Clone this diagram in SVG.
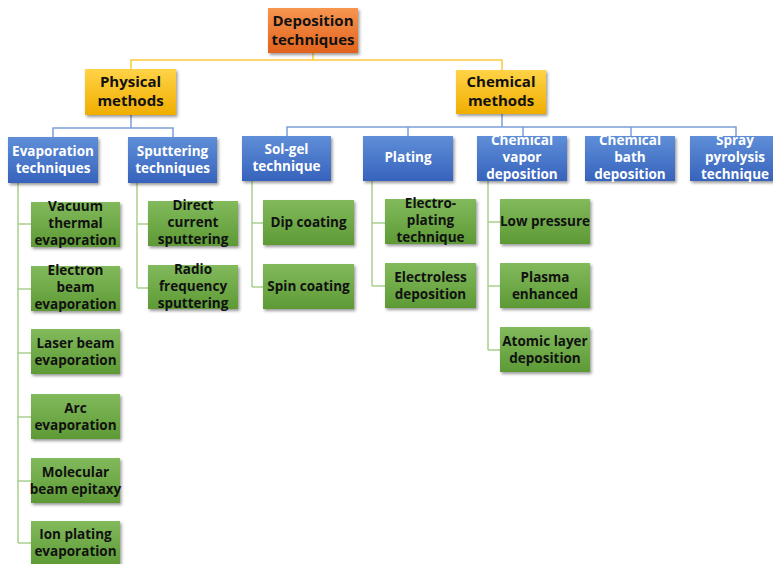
<svg xmlns="http://www.w3.org/2000/svg" width="773" height="564" viewBox="0 0 773 564">
<defs>
<linearGradient id="gO" x1="0" y1="0" x2="0" y2="1"><stop offset="0" stop-color="#F79650"/><stop offset="1" stop-color="#E1621C"/></linearGradient>
<linearGradient id="gY" x1="0" y1="0" x2="0" y2="1"><stop offset="0" stop-color="#FFD347"/><stop offset="1" stop-color="#F0AE00"/></linearGradient>
<linearGradient id="gB" x1="0" y1="0" x2="0" y2="1"><stop offset="0" stop-color="#5F8ED8"/><stop offset="1" stop-color="#3763BC"/></linearGradient>
<linearGradient id="gG" x1="0" y1="0" x2="0" y2="1"><stop offset="0" stop-color="#82BA5C"/><stop offset="1" stop-color="#5D9A35"/></linearGradient>
<filter id="sh" x="-10%" y="-10%" width="130%" height="140%"><feDropShadow dx="1.5" dy="2" stdDeviation="1.5" flood-color="#000" flood-opacity="0.4"/></filter>
</defs>
<style>
text{font-family:"Open Sans","Liberation Sans",sans-serif;font-weight:bold;text-anchor:middle}
.t0{font-size:15px;fill:#111}
.tb{font-size:13.5px;fill:#fff}
.tg{font-size:13.5px;fill:#111}
.bo{fill:url(#gO);filter:url(#sh)}
.by{fill:url(#gY);filter:url(#sh)}
.bb{fill:url(#gB);filter:url(#sh)}
.bg{fill:url(#gG);filter:url(#sh)}
.cy{stroke:#FFC93C;stroke-width:1.5;fill:none}
.cb{stroke:#7E9ED8;stroke-width:1.5;fill:none}
.cg{stroke:#A9D18E;stroke-width:1.5;fill:none}
</style>
<rect width="773" height="564" fill="#fff"/>
<g id="connectors">
<path class="cy" d="M313 53V60M131 69V60H502V70"/>
<path class="cb" d="M131 115V128M53 137V128H173V137"/>
<path class="cb" d="M502 114V127M287 136V127H736V136M408 127V136M523 127V136M631 127V136"/>
<path class="cg" d="M18 183V543M18 224H31M18 289H31M18 353H31M18 417H31M18 481H31M18 543H31"/>
<path class="cg" d="M137 183V288M137 224H148M137 288H148"/>
<path class="cg" d="M252 181V287M252 223H263M252 287H263"/>
<path class="cg" d="M372 181V286M372 223H385M372 286H385"/>
<path class="cg" d="M488 181V350M488 222H500M488 286H500M488 350H500"/>
</g>
<g id="root"><rect class="bo" x="268" y="8" width="90" height="45"/><text class="t0" x="313" y="26">Deposition</text><text class="t0" x="313" y="45">techniques</text></g>
<g id="physical"><rect class="by" x="85" y="69" width="91" height="46"/><text class="t0" x="130.5" y="87">Physical</text><text class="t0" x="130.5" y="106">methods</text></g>
<g id="chemical"><rect class="by" x="456" y="70" width="90" height="44"/><text class="t0" x="501" y="87">Chemical</text><text class="t0" x="501" y="106">methods</text></g>
<g id="evaporation"><rect class="bb" x="8" y="137" width="90" height="46"/><text class="tb" x="53" y="156">Evaporation</text><text class="tb" x="53" y="173">techniques</text></g>
<g id="sputtering"><rect class="bb" x="128" y="137" width="89" height="46"/><text class="tb" x="172.5" y="156">Sputtering</text><text class="tb" x="172.5" y="173">techniques</text></g>
<g id="solgel"><rect class="bb" x="242" y="136" width="89" height="45"/><text class="tb" x="286.5" y="154">Sol-gel</text><text class="tb" x="286.5" y="171">technique</text></g>
<g id="plating"><rect class="bb" x="363" y="136" width="90" height="45"/><text class="tb" x="408" y="162">Plating</text></g>
<g id="cvd"><rect class="bb" x="477" y="136" width="90" height="45"/><text class="tb" x="522" y="145">Chemical</text><text class="tb" x="522" y="162">vapor</text><text class="tb" x="522" y="179">deposition</text></g>
<g id="cbd"><rect class="bb" x="585" y="136" width="90" height="45"/><text class="tb" x="630" y="145">Chemical</text><text class="tb" x="630" y="162">bath</text><text class="tb" x="630" y="179">deposition</text></g>
<g id="spray"><rect class="bb" x="690" y="136" width="90" height="45"/><text class="tb" x="735" y="145">Spray</text><text class="tb" x="735" y="162">pyrolysis</text><text class="tb" x="735" y="179">technique</text></g>
<g id="vacuum"><rect class="bg" x="31" y="202" width="89" height="45"/><text class="tg" x="75.5" y="211">Vacuum</text><text class="tg" x="75.5" y="228">thermal</text><text class="tg" x="75.5" y="245">evaporation</text></g>
<g id="electron"><rect class="bg" x="31" y="266" width="89" height="45"/><text class="tg" x="75.5" y="275">Electron</text><text class="tg" x="75.5" y="292">beam</text><text class="tg" x="75.5" y="309">evaporation</text></g>
<g id="laser"><rect class="bg" x="31" y="329" width="89" height="45"/><text class="tg" x="75.5" y="348">Laser beam</text><text class="tg" x="75.5" y="365">evaporation</text></g>
<g id="arc"><rect class="bg" x="31" y="394" width="89" height="45"/><text class="tg" x="75.5" y="413">Arc</text><text class="tg" x="75.5" y="430">evaporation</text></g>
<g id="mbe"><rect class="bg" x="31" y="458" width="89" height="45"/><text class="tg" x="75.5" y="477">Molecular</text><text class="tg" x="75.5" y="494">beam epitaxy</text></g>
<g id="ionplating"><rect class="bg" x="31" y="521" width="89" height="45"/><text class="tg" x="75.5" y="539">Ion plating</text><text class="tg" x="75.5" y="556">evaporation</text></g>
<g id="direct"><rect class="bg" x="148" y="201" width="90" height="45"/><text class="tg" x="193" y="210">Direct</text><text class="tg" x="193" y="227">current</text><text class="tg" x="193" y="244">sputtering</text></g>
<g id="radio"><rect class="bg" x="148" y="265" width="90" height="44"/><text class="tg" x="193" y="274">Radio</text><text class="tg" x="193" y="291">frequency</text><text class="tg" x="193" y="308">sputtering</text></g>
<g id="dip"><rect class="bg" x="263" y="200" width="91" height="45"/><text class="tg" x="308.5" y="227">Dip coating</text></g>
<g id="spin"><rect class="bg" x="263" y="264" width="91" height="45"/><text class="tg" x="308.5" y="291">Spin coating</text></g>
<g id="electroplating"><rect class="bg" x="385" y="199" width="91" height="45"/><text class="tg" x="430.5" y="208">Electro-</text><text class="tg" x="430.5" y="225">plating</text><text class="tg" x="430.5" y="242">technique</text></g>
<g id="electroless"><rect class="bg" x="385" y="263" width="91" height="45"/><text class="tg" x="430.5" y="282">Electroless</text><text class="tg" x="430.5" y="299">deposition</text></g>
<g id="lowpressure"><rect class="bg" x="500" y="199" width="90" height="45"/><text class="tg" x="545" y="226">Low pressure</text></g>
<g id="plasma"><rect class="bg" x="500" y="263" width="90" height="45"/><text class="tg" x="545" y="282">Plasma</text><text class="tg" x="545" y="299">enhanced</text></g>
<g id="atomic"><rect class="bg" x="500" y="327" width="90" height="45"/><text class="tg" x="545" y="346">Atomic layer</text><text class="tg" x="545" y="363">deposition</text></g>
</svg>
